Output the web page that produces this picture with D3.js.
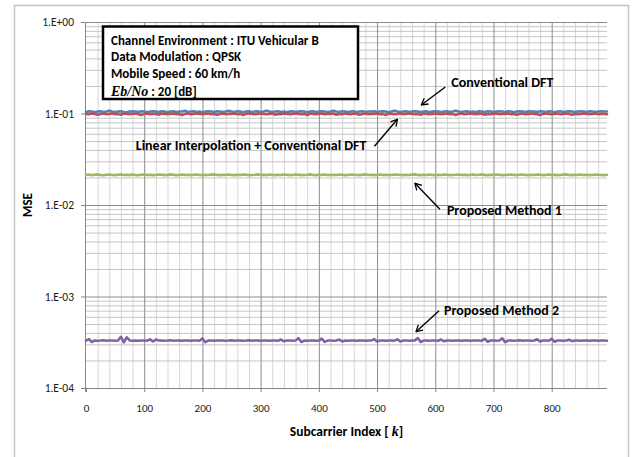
<!DOCTYPE html>
<html>
<head>
<meta charset="utf-8">
<script src="https://cdn.jsdelivr.net/npm/d3@7"></script>
<style>
  body { margin: 0; background: #fff; }
  svg { display: block; }
</style>
</head>
<body>
<svg id="chart" width="640" height="457"></svg>
<script>
// Subcarrier index sampled every 5 carriers (0 .. 895)
const subcarriers = d3.range(0, 896, 5);

// MSE per subcarrier, ITU Vehicular B, QPSK, 60 km/h, Eb/No = 20 dB
const conventionalDFT = [
  0.104,0.106,0.105,0.103,0.105,0.106,0.104,0.105,0.107,0.105,
  0.104,0.105,0.106,0.104,0.103,0.105,0.106,0.105,0.104,0.106,
  0.105,0.103,0.105,0.106,0.105,0.104,0.106,0.105,0.103,0.105,
  0.106,0.104,0.105,0.105,0.107,0.104,0.105,0.106,0.104,0.105,
  0.103,0.105,0.106,0.105,0.104,0.106,0.105,0.104,0.105,0.107,
  0.105,0.104,0.106,0.105,0.103,0.105,0.106,0.104,0.105,0.106,
  0.104,0.105,0.107,0.105,0.104,0.105,0.106,0.104,0.105,0.103,
  0.105,0.106,0.104,0.105,0.106,0.105,0.103,0.105,0.106,0.104,
  0.105,0.106,0.105,0.104,0.105,0.107,0.105,0.104,0.106,0.105,
  0.104,0.105,0.106,0.103,0.105,0.106,0.104,0.105,0.105,0.106,
  0.104,0.105,0.106,0.105,0.103,0.105,0.107,0.105,0.104,0.105,
  0.106,0.104,0.105,0.106,0.105,0.104,0.105,0.106,0.103,0.105,
  0.106,0.105,0.104,0.105,0.106,0.104,0.105,0.107,0.105,0.104,
  0.105,0.106,0.104,0.105,0.103,0.106,0.105,0.104,0.106,0.105,
  0.104,0.105,0.106,0.105,0.104,0.106,0.105,0.103,0.105,0.106,
  0.105,0.104,0.106,0.105,0.105,0.104,0.106,0.105,0.104,0.106,
  0.105,0.103,0.105,0.106,0.104,0.105,0.106,0.105,0.104,0.105,
  0.106,0.105,0.104,0.106,0.105,0.104,0.105,0.106,0.105,0.105
];

const linearInterpDFT = [
  0.099,0.098,0.100,0.099,0.097,0.099,0.100,0.098,0.099,0.100,
  0.098,0.099,0.097,0.100,0.099,0.098,0.099,0.100,0.098,0.096,
  0.099,0.100,0.098,0.099,0.099,0.097,0.100,0.099,0.098,0.099,
  0.100,0.098,0.099,0.096,0.099,0.100,0.098,0.099,0.100,0.099,
  0.098,0.099,0.100,0.098,0.099,0.097,0.099,0.100,0.098,0.099,
  0.099,0.100,0.098,0.099,0.096,0.099,0.100,0.099,0.098,0.099,
  0.100,0.099,0.098,0.099,0.100,0.097,0.099,0.098,0.100,0.099,
  0.098,0.099,0.100,0.099,0.098,0.099,0.096,0.100,0.099,0.098,
  0.099,0.100,0.098,0.099,0.099,0.100,0.097,0.099,0.098,0.100,
  0.099,0.098,0.100,0.099,0.097,0.099,0.100,0.098,0.099,0.099,
  0.100,0.098,0.099,0.096,0.100,0.099,0.098,0.099,0.100,0.098,
  0.099,0.100,0.099,0.098,0.099,0.097,0.100,0.099,0.098,0.099,
  0.100,0.099,0.098,0.099,0.100,0.098,0.099,0.096,0.099,0.100,
  0.098,0.099,0.100,0.099,0.098,0.099,0.100,0.097,0.099,0.098,
  0.099,0.100,0.098,0.099,0.099,0.100,0.098,0.099,0.097,0.099,
  0.100,0.098,0.099,0.100,0.099,0.098,0.096,0.099,0.100,0.099,
  0.098,0.099,0.100,0.098,0.099,0.100,0.099,0.097,0.099,0.098,
  0.099,0.100,0.099,0.098,0.099,0.100,0.098,0.099,0.099,0.098
];

const proposedMethod1 = [
  0.0213,0.0215,0.0212,0.0214,0.0216,0.0213,0.0211,0.0214,0.0215,0.0213,
  0.0212,0.0214,0.0216,0.0213,0.0214,0.0212,0.0215,0.0213,0.0211,0.0214,
  0.0215,0.0213,0.0214,0.0212,0.0213,0.0215,0.0214,0.0212,0.0213,0.0216,
  0.0214,0.0212,0.0213,0.0215,0.0213,0.0214,0.0212,0.0214,0.0215,0.0213,
  0.0212,0.0214,0.0213,0.0215,0.0216,0.0213,0.0212,0.0214,0.0213,0.0215,
  0.0213,0.0212,0.0214,0.0213,0.0215,0.0214,0.0212,0.0213,0.0214,0.0216,
  0.0213,0.0214,0.0212,0.0215,0.0213,0.0212,0.0214,0.0213,0.0215,0.0214,
  0.0212,0.0213,0.0215,0.0214,0.0212,0.0213,0.0214,0.0216,0.0213,0.0212,
  0.0214,0.0213,0.0215,0.0213,0.0212,0.0214,0.0213,0.0215,0.0214,0.0212,
  0.0213,0.0215,0.0214,0.0213,0.0212,0.0214,0.0216,0.0213,0.0214,0.0212,
  0.0213,0.0215,0.0213,0.0214,0.0212,0.0213,0.0215,0.0214,0.0213,0.0212,
  0.0214,0.0213,0.0215,0.0216,0.0213,0.0212,0.0214,0.0213,0.0215,0.0213,
  0.0212,0.0214,0.0213,0.0215,0.0214,0.0212,0.0213,0.0214,0.0215,0.0213,
  0.0214,0.0212,0.0213,0.0215,0.0213,0.0214,0.0216,0.0213,0.0212,0.0214,
  0.0213,0.0215,0.0214,0.0212,0.0213,0.0214,0.0215,0.0213,0.0212,0.0214,
  0.0215,0.0213,0.0212,0.0214,0.0213,0.0215,0.0214,0.0212,0.0213,0.0215,
  0.0213,0.0214,0.0212,0.0213,0.0215,0.0216,0.0213,0.0212,0.0214,0.0213,
  0.0215,0.0213,0.0214,0.0212,0.0213,0.0215,0.0214,0.0213,0.0212,0.0214
];

const proposedMethod2 = [
  3.30e-4,3.42e-4,3.18e-4,3.31e-4,3.29e-4,3.30e-4,3.33e-4,3.28e-4,3.30e-4,3.31e-4,
  3.29e-4,3.30e-4,3.62e-4,3.16e-4,3.58e-4,3.31e-4,3.29e-4,3.30e-4,3.28e-4,3.31e-4,
  3.30e-4,3.29e-4,3.40e-4,3.22e-4,3.38e-4,3.30e-4,3.31e-4,3.29e-4,3.30e-4,3.32e-4,
  3.29e-4,3.30e-4,3.31e-4,3.28e-4,3.30e-4,3.31e-4,3.29e-4,3.30e-4,3.30e-4,3.29e-4,
  3.48e-4,3.17e-4,3.30e-4,3.31e-4,3.29e-4,3.30e-4,3.30e-4,3.31e-4,3.29e-4,3.30e-4,
  3.33e-4,3.28e-4,3.30e-4,3.31e-4,3.29e-4,3.30e-4,3.32e-4,3.28e-4,3.30e-4,3.31e-4,
  3.29e-4,3.30e-4,3.31e-4,3.29e-4,3.30e-4,3.30e-4,3.28e-4,3.39e-4,3.24e-4,3.30e-4,
  3.31e-4,3.29e-4,3.30e-4,3.50e-4,3.18e-4,3.30e-4,3.29e-4,3.31e-4,3.30e-4,3.29e-4,
  3.30e-4,3.46e-4,3.19e-4,3.30e-4,3.31e-4,3.29e-4,3.30e-4,3.38e-4,3.23e-4,3.31e-4,
  3.29e-4,3.30e-4,3.31e-4,3.29e-4,3.30e-4,3.30e-4,3.28e-4,3.31e-4,3.30e-4,3.42e-4,
  3.23e-4,3.30e-4,3.31e-4,3.29e-4,3.30e-4,3.30e-4,3.29e-4,3.40e-4,3.22e-4,3.30e-4,
  3.31e-4,3.29e-4,3.30e-4,3.30e-4,3.51e-4,3.18e-4,3.30e-4,3.31e-4,3.29e-4,3.30e-4,
  3.30e-4,3.29e-4,3.39e-4,3.24e-4,3.30e-4,3.31e-4,3.29e-4,3.30e-4,3.30e-4,3.29e-4,
  3.31e-4,3.30e-4,3.29e-4,3.30e-4,3.31e-4,3.30e-4,3.29e-4,3.45e-4,3.20e-4,3.30e-4,
  3.31e-4,3.29e-4,3.30e-4,3.49e-4,3.17e-4,3.30e-4,3.31e-4,3.29e-4,3.30e-4,3.33e-4,
  3.28e-4,3.30e-4,3.31e-4,3.29e-4,3.30e-4,3.41e-4,3.22e-4,3.30e-4,3.31e-4,3.29e-4,
  3.44e-4,3.20e-4,3.30e-4,3.31e-4,3.29e-4,3.30e-4,3.37e-4,3.25e-4,3.30e-4,3.31e-4,
  3.29e-4,3.30e-4,3.31e-4,3.29e-4,3.30e-4,3.30e-4,3.29e-4,3.31e-4,3.30e-4,3.29e-4
];

const seriesNames = ["Conventional DFT", "Linear Interpolation + Conventional DFT", "Proposed Method 1", "Proposed Method 2"];
const seriesColors = ["#4F81BD", "#C0504D", "#9BBB59", "#8064A2"];

const xTicks = [0, 100, 200, 300, 400, 500, 600, 700, 800];
const yTicks = [1, 1e-1, 1e-2, 1e-3, 1e-4];
const yTickLabels = ["1.E+00", "1.E-01", "1.E-02", "1.E-03", "1.E-04"];

const infoLines = [
  "Channel Environment : ITU Vehicular B",
  "Data Modulation : QPSK",
  "Mobile Speed : 60 km/h"
];

// ---- layout ----
const svg = d3.select("#chart");
const plotL = 86, plotR = 607, plotT = 22, plotB = 388;
const sans = "Carlito, Lato, 'Open Sans', sans-serif";

const x = d3.scaleLinear().domain([0, 895]).range([plotL, plotR]);
const y = d3.scaleLog().domain([1e-4, 1]).range([plotB, plotT]);

// outer chart frame
svg.append("rect").attr("x", 14.5).attr("y", 5.5).attr("width", 614).attr("height", 470)
  .attr("fill", "#fff").attr("stroke", "#c4c4c4").attr("stroke-width", 1.5);

// ---- gridlines ----
const xMinor = d3.range(20, 895, 20).filter(v => v % 100 !== 0);
const yMinor = [];
[1e-4, 1e-3, 1e-2, 1e-1].forEach(d => { for (let k = 2; k <= 9; k++) yMinor.push(k * d); });

const grid = svg.append("g");
grid.append("g").attr("transform", `translate(0,${plotB})`)
  .call(d3.axisBottom(x).tickValues(xMinor).tickSize(-(plotB - plotT)).tickFormat(""))
  .call(g => g.select(".domain").remove())
  .call(g => g.selectAll("line").attr("stroke", "#d6d6d6").attr("stroke-width", 1));
grid.append("g").attr("transform", `translate(${plotL},0)`)
  .call(d3.axisLeft(y).tickValues(yMinor).tickSize(-(plotR - plotL)).tickFormat(""))
  .call(g => g.select(".domain").remove())
  .call(g => g.selectAll("line").attr("stroke", "#c6c6c6").attr("stroke-width", 1));
grid.append("g").attr("transform", `translate(0,${plotB})`)
  .call(d3.axisBottom(x).tickValues(xTicks.slice(1)).tickSize(-(plotB - plotT)).tickFormat(""))
  .call(g => g.select(".domain").remove())
  .call(g => g.selectAll("line").attr("stroke", "#8c8c8c").attr("stroke-width", 1));
grid.append("g").attr("transform", `translate(${plotL},0)`)
  .call(d3.axisLeft(y).tickValues(yTicks.slice(0, -1)).tickSize(-(plotR - plotL)).tickFormat(""))
  .call(g => g.select(".domain").remove())
  .call(g => g.selectAll("line").attr("stroke", "#8c8c8c").attr("stroke-width", 1));

// ---- axes ----
const axisColor = "#868686";
svg.append("g").attr("transform", `translate(${plotL},0)`)
  .call(d3.axisLeft(y).tickValues(yTicks).tickSize(5).tickPadding(7)
    .tickFormat((d, i) => yTickLabels[i]))
  .call(g => g.select(".domain").attr("stroke", axisColor).attr("d", `M-0.5,${plotT}V${plotB + 4}`))
  .call(g => g.selectAll("line").attr("stroke", axisColor))
  .call(g => g.selectAll("text").attr("font-family", sans).attr("font-size", 11.5).attr("fill", "#1a1a1a"));

svg.append("g").attr("transform", `translate(0,${plotB})`)
  .call(d3.axisBottom(x).tickValues(xTicks).tickSize(4).tickPadding(12))
  .call(g => g.select(".domain").attr("stroke", axisColor).attr("d", `M${plotL},0.5H${plotR}`))
  .call(g => g.selectAll("line").attr("stroke", axisColor))
  .call(g => g.selectAll("text").attr("font-family", sans).attr("font-size", 11).attr("fill", "#1a1a1a"));

// axis titles
svg.append("text").attr("transform", `translate(27,205) rotate(-90)`)
  .attr("text-anchor", "middle").attr("dominant-baseline", "central")
  .attr("font-family", sans).attr("font-weight", "bold").attr("font-size", 13)
  .text("MSE");

const xTitle = svg.append("text").attr("x", (plotL + plotR) / 2).attr("y", 436)
  .attr("text-anchor", "middle").attr("font-family", sans).attr("font-weight", "bold").attr("font-size", 13.5);
xTitle.append("tspan").text("Subcarrier Index [ ");
xTitle.append("tspan").attr("font-family", "'Liberation Serif', serif").attr("font-style", "italic")
  .attr("font-weight", "bold").attr("font-size", 14).text("k");
xTitle.append("tspan").text("]");

// ---- series ----
const seriesData = [conventionalDFT, linearInterpDFT, proposedMethod1, proposedMethod2];
const line = d3.line().x((d, i) => x(subcarriers[i])).y(d => y(d));
seriesData.forEach((vals, s) => {
  svg.append("path").datum(vals)
    .attr("d", line)
    .attr("fill", "none")
    .attr("stroke", seriesColors[s])
    .attr("stroke-width", 2.6)
    .attr("stroke-linejoin", "round")
    .attr("stroke-linecap", "round");
});

// ---- info box ----
const box = svg.append("g");
box.append("rect").attr("x", 103).attr("y", 26.5).attr("width", 255).attr("height", 72.5)
  .attr("fill", "#fff").attr("stroke", "#000").attr("stroke-width", 2.5);
const infoY = [40, 56.5, 73];
infoLines.forEach((t, i) => {
  box.append("text").attr("x", 111).attr("y", infoY[i]).attr("dominant-baseline", "central")
    .attr("font-family", sans).attr("font-weight", "bold").attr("font-size", 13).text(t);
});
const snr = box.append("text").attr("x", 111).attr("y", 90.5).attr("dominant-baseline", "central")
  .attr("font-family", sans).attr("font-weight", "bold").attr("font-size", 13);
snr.append("tspan").attr("font-family", "'Liberation Serif', serif").attr("font-style", "italic")
  .attr("font-size", 14).text("Eb/No");
snr.append("tspan").text(" : 20 [dB]");

// ---- annotations with arrows ----
svg.append("defs").append("marker")
  .attr("id", "arrowhead").attr("viewBox", "0 -5 10 10")
  .attr("refX", 9).attr("refY", 0).attr("markerWidth", 8).attr("markerHeight", 8)
  .attr("markerUnits", "userSpaceOnUse").attr("orient", "auto")
  .append("path").attr("d", "M1,-4.5L9,0L1,4.5").attr("fill", "none")
  .attr("stroke", "#000").attr("stroke-width", 1.6);

// each label points at a spot on its curve: [subcarrier, MSE] then label offset in px
const notes = [
  { name: seriesNames[0], at: [576, 0.124], tail: [24, -18], anchor: "start", text: [30, -22] },
  { name: seriesNames[1], at: [535, 0.0864], tail: [-23, 27], anchor: "end", text: [-31, 26] },
  { name: seriesNames[2], at: [565, 0.01726], tail: [25, 26], anchor: "start", text: [32, 27] },
  { name: seriesNames[3], at: [567, 4.12e-4], tail: [23, -21], anchor: "start", text: [28, -21.5] }
];
notes.forEach(n => {
  const hx = x(n.at[0]), hy = y(n.at[1]);
  svg.append("line")
    .attr("x1", hx + n.tail[0]).attr("y1", hy + n.tail[1])
    .attr("x2", hx).attr("y2", hy)
    .attr("stroke", "#000").attr("stroke-width", 1.4)
    .attr("marker-end", "url(#arrowhead)");
  svg.append("text")
    .attr("x", hx + n.text[0]).attr("y", hy + n.text[1])
    .attr("text-anchor", n.anchor).attr("dominant-baseline", "central")
    .attr("font-family", sans).attr("font-weight", "bold").attr("font-size", 14)
    .text(n.name);
});
</script>
</body>
</html>
